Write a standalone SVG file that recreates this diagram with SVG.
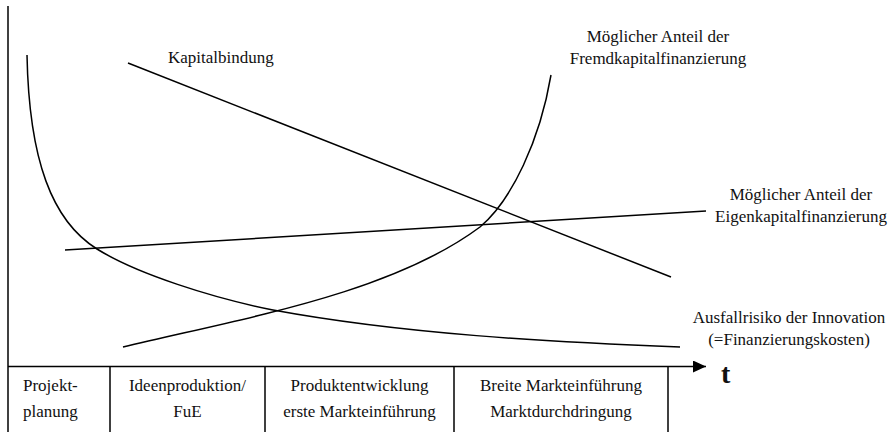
<svg xmlns="http://www.w3.org/2000/svg" width="894" height="432" viewBox="0 0 894 432">
  <style>
    .ln { fill: none; stroke: #000; stroke-width: 1.5; }
    .tx { font-family: "Liberation Serif", "Times New Roman", serif; font-size: 17px; fill: #111; }
    .mid { text-anchor: middle; }
  </style>
  <defs>
    <marker id="arrow" markerWidth="14" markerHeight="12" refX="13" refY="6" orient="auto" markerUnits="userSpaceOnUse">
      <path d="M0,0 L13,6 L0,12 Z" fill="#000"/>
    </marker>
  </defs>
  <rect width="894" height="432" fill="#fff"/>

  <!-- axes -->
  <g id="axes">
    <line class="ln" x1="8" y1="6" x2="8" y2="432"/>
    <line class="ln" x1="8" y1="366.5" x2="706" y2="366.5" marker-end="url(#arrow)"/>
    <text class="tx" x="721" y="383" style="font-size:28px;font-weight:bold">t</text>
  </g>

  <!-- curves and lines -->
  <g id="connectors">
    <!-- Ausfallrisiko -->
    <path id="risk" class="ln" d="M27,55 C29,160 52,221 97,249 C137,274 213,298 273,310 C403,334 550,342 680,347"/>
    <!-- Fremdkapital -->
    <path id="fremd" class="ln" d="M123,347 C243,318 390,294 480,227 C512,200 540,140 551,75"/>
    <!-- Kapitalbindung -->
    <line id="kapital" class="ln" x1="128" y1="63" x2="671" y2="277"/>
    <!-- Eigenkapital -->
    <line id="eigen" class="ln" x1="65" y1="250" x2="706" y2="211"/>
  </g>

  <!-- curve labels -->
  <g id="label-kapitalbindung">
    <text class="tx" x="168" y="63">Kapitalbindung</text>
  </g>
  <g id="label-fremd">
    <text class="tx mid" x="658" y="42">Möglicher Anteil der</text>
    <text class="tx mid" x="658" y="64">Fremdkapitalfinanzierung</text>
  </g>
  <g id="label-eigen">
    <text class="tx mid" x="801" y="200">Möglicher Anteil der</text>
    <text class="tx mid" x="801" y="222">Eigenkapitalfinanzierung</text>
  </g>
  <g id="label-risk">
    <text class="tx mid" x="789" y="323">Ausfallrisiko der Innovation</text>
    <text class="tx mid" x="789" y="345">(=Finanzierungskosten)</text>
  </g>

  <!-- phase table -->
  <g id="phase-table">
    <line class="ln" x1="110" y1="366" x2="110" y2="432"/>
    <line class="ln" x1="265" y1="366" x2="265" y2="432"/>
    <line class="ln" x1="454" y1="366" x2="454" y2="432"/>
    <line class="ln" x1="668" y1="366" x2="668" y2="432"/>
  </g>
  <g id="phase-1">
    <text class="tx" x="23" y="391">Projekt-</text>
    <text class="tx" x="23" y="417">planung</text>
  </g>
  <g id="phase-2">
    <text class="tx mid" x="187.5" y="391">Ideenproduktion/</text>
    <text class="tx mid" x="187.5" y="417">FuE</text>
  </g>
  <g id="phase-3">
    <text class="tx mid" x="359.5" y="391">Produktentwicklung</text>
    <text class="tx mid" x="359.5" y="417">erste Markteinführung</text>
  </g>
  <g id="phase-4">
    <text class="tx mid" x="561" y="391">Breite Markteinführung</text>
    <text class="tx mid" x="561" y="417">Marktdurchdringung</text>
  </g>
</svg>
